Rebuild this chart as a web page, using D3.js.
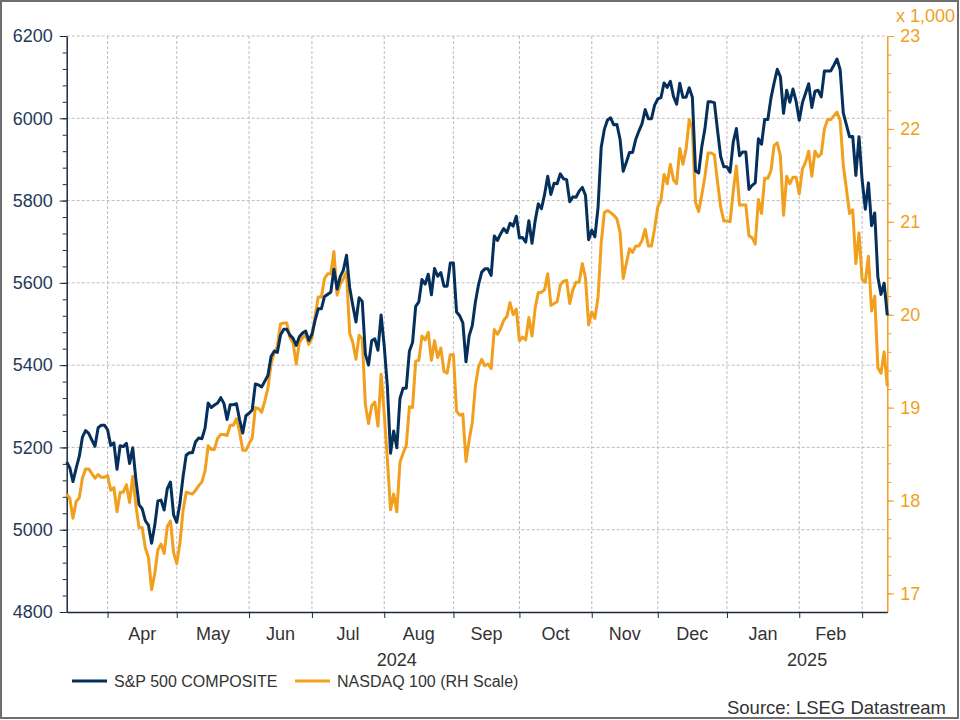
<!DOCTYPE html>
<html>
<head>
<meta charset="utf-8">
<script src="https://cdn.jsdelivr.net/npm/d3@7"></script>
<style>
  body { margin: 0; background: #fff; }
  text { font-family: "Liberation Sans", Arial, sans-serif; }
</style>
</head>
<body>
<script>
var width = 960;
var height = 720;
var plotLeft = 66.7, plotRight = 887.3, plotTop = 36, plotBottom = 612;
var spxColor = "#06305c";
var ndxColor = "#f29f1d";
var gridColor = "#bdbdbd";

// weekday series, first day 13 Mar 2024, last day 13 Mar 2025
var startDate = "2024-03-13";
var seriesNames = ["S&P 500 COMPOSITE", "NASDAQ 100 (RH Scale)"];

var spx = [
  5165, 5150, 5117, 5149, 5178, 5225, 5241, 5234, 5218, 5203, 5248, 5254, 5254,
  5243, 5205, 5211, 5147, 5204, 5202, 5210, 5161, 5199, 5123, 5061, 5051, 5022, 5011, 4967, 5010, 5070, 5072, 5048, 5100, 5116, 5036,
  5018, 5064, 5128, 5181, 5187, 5187, 5214, 5223, 5221, 5247, 5308, 5297, 5303, 5308, 5321, 5307, 5268, 5304, 5304, 5306, 5267, 5235, 5277,
  5283, 5291, 5354, 5352, 5347, 5361, 5375, 5421, 5434, 5431, 5473, 5487, 5487, 5473, 5465, 5448, 5469, 5478, 5483, 5460,
  5475, 5509, 5537, 5537, 5567, 5572, 5577, 5633, 5585, 5615, 5631, 5667, 5589, 5545, 5505, 5564, 5555, 5427, 5400, 5459, 5464, 5436, 5522,
  5446, 5347, 5186, 5240, 5199, 5319, 5344, 5344, 5434, 5455, 5543, 5554, 5608, 5597, 5621, 5571, 5635, 5616, 5625, 5592, 5592, 5648,
  5648, 5529, 5520, 5503, 5408, 5471, 5496, 5554, 5596, 5626, 5634, 5634, 5618, 5714, 5703, 5719, 5732, 5722, 5745, 5738, 5762,
  5709, 5710, 5699, 5751, 5696, 5751, 5792, 5780, 5815, 5859, 5815, 5842, 5841, 5865, 5853, 5851, 5797, 5809, 5808, 5823, 5832, 5813, 5705,
  5728, 5712, 5783, 5929, 5973, 5996, 6001, 5984, 5985, 5949, 5871, 5893, 5917, 5917, 5949, 5969, 5987, 6021, 5999, 5999, 6032,
  6047, 6050, 6086, 6075, 6090, 6053, 6034, 6085, 6051, 6051, 6074, 6051, 5872, 5867, 5931, 5975, 6040, 6040, 6038, 5971, 5907, 5882,
  5882, 5869, 5942, 5975, 5909, 5918, 5918, 5827, 5837, 5843, 5950, 5937, 5997, 5997, 6049, 6086, 6119, 6101, 6012, 6068, 6039, 6071, 6041,
  5995, 6038, 6061, 6084, 6026, 6066, 6068, 6052, 6115, 6115, 6115, 6129, 6144, 6118, 6013, 5984, 5955, 5956, 5861, 5955,
  5850, 5779, 5843, 5739, 5770, 5614, 5572, 5599, 5521
];

// thousands
var ndx = [
  18.07, 18.02, 17.81, 17.99, 18.03, 18.24, 18.34, 18.34, 18.29, 18.24, 18.28, 18.25, 18.25,
  18.27, 18.11, 18.14, 17.88, 18.09, 18.09, 18.17, 17.98, 18.26, 17.95, 17.71, 17.71, 17.49, 17.39, 17.04, 17.21, 17.47, 17.53, 17.43, 17.72, 17.78, 17.44,
  17.32, 17.54, 17.89, 18.09, 18.08, 18.07, 18.11, 18.16, 18.20, 18.32, 18.59, 18.55, 18.55, 18.67, 18.71, 18.71, 18.70, 18.81, 18.81, 18.88, 18.74, 18.54, 18.54,
  18.61, 18.67, 19.00, 18.99, 18.95, 19.07, 19.21, 19.47, 19.59, 19.66, 19.90, 19.91, 19.91, 19.75, 19.70, 19.47, 19.70, 19.75, 19.79, 19.68,
  19.75, 19.98, 20.19, 20.19, 20.39, 20.44, 20.44, 20.68, 20.21, 20.33, 20.39, 20.46, 19.80, 19.70, 19.52, 19.78, 19.74, 19.03, 18.83, 19.02, 19.06, 18.80, 19.36,
  18.93, 18.44, 17.90, 18.07, 17.88, 18.41, 18.51, 18.59, 19.01, 19.00, 19.50, 19.51, 19.77, 19.73, 19.81, 19.51, 19.72, 19.54, 19.64, 19.39, 19.37, 19.57,
  19.57, 18.96, 18.92, 18.93, 18.42, 18.65, 18.84, 19.24, 19.44, 19.52, 19.45, 19.47, 19.42, 19.84, 19.79, 19.85, 19.94, 19.98, 20.13, 20.00, 20.06,
  19.72, 19.76, 19.73, 19.97, 19.77, 20.07, 20.24, 20.24, 20.27, 20.44, 20.10, 20.12, 20.14, 20.32, 20.36, 20.37, 20.12, 20.27, 20.35, 20.35, 20.55, 20.40, 19.89,
  20.03, 19.96, 20.19, 20.77, 21.10, 21.12, 21.10, 21.07, 21.03, 20.89, 20.39, 20.55, 20.71, 20.67, 20.74, 20.74, 20.80, 20.92, 20.74, 20.74, 20.93,
  21.16, 21.23, 21.51, 21.41, 21.62, 21.45, 21.41, 21.79, 21.62, 21.78, 22.10, 22.00, 21.21, 21.11, 21.29, 21.49, 21.74, 21.74, 21.72, 21.43, 21.16, 21.01,
  21.01, 21.00, 21.33, 21.60, 21.18, 21.18, 21.18, 20.85, 20.83, 20.76, 21.24, 21.09, 21.47, 21.47, 21.55, 21.82, 21.85, 21.71, 21.07, 21.49, 21.41, 21.48, 21.48,
  21.30, 21.57, 21.64, 21.76, 21.49, 21.76, 21.70, 21.73, 22.00, 22.10, 22.10, 22.14, 22.18, 22.09, 21.61, 21.35, 21.09, 21.13, 20.55, 20.88,
  20.38, 20.35, 20.63, 20.04, 20.20, 19.43, 19.37, 19.60, 19.23
];

var leftTicks = [4800, 5000, 5200, 5400, 5600, 5800, 6000, 6200];
var rightTicks = [17, 18, 19, 20, 21, 22, 23];
var monthNames = ["Apr", "May", "Jun", "Jul", "Aug", "Sep", "Oct", "Nov", "Dec", "Jan", "Feb"];
var yearLabels = ["2024", "2025"];

// weekday calendar for the series
var dates = [];
var d = d3.timeDay.floor(new Date(startDate + "T00:00:00"));
while (dates.length < spx.length) {
  if (d.getDay() !== 0 && d.getDay() !== 6) dates.push(new Date(d));
  d = d3.timeDay.offset(d, 1);
}

// index of the first weekday of each new month
var monthStarts = [];
dates.forEach(function(dt, i) {
  if (i > 0 && dt.getMonth() !== dates[i - 1].getMonth()) monthStarts.push(i);
});
var yearStart = dates.findIndex(function(dt) { return dt.getFullYear() === 2025; });

var x = d3.scaleLinear().domain([0, spx.length - 1]).range([plotLeft, plotRight]);
var yL = d3.scaleLinear().domain([4800, 6200]).range([plotBottom, plotTop]);
var yR = d3.scaleLinear().domain([16.8, 23]).range([plotBottom, plotTop]);

var svg = d3.select("body").append("svg")
  .attr("width", width)
  .attr("height", height);

svg.append("rect")
  .attr("x", 1).attr("y", 1)
  .attr("width", width - 3).attr("height", height - 3)
  .attr("fill", "#fff")
  .attr("stroke", "#6e6e6e")
  .attr("stroke-width", 2);

// grid
svg.append("g").selectAll("line.hgrid")
  .data(leftTicks.slice(1))
  .enter().append("line")
    .attr("x1", plotLeft).attr("x2", plotRight)
    .attr("y1", function(v) { return yL(v); })
    .attr("y2", function(v) { return yL(v); })
    .attr("stroke", gridColor)
    .attr("stroke-width", 1)
    .attr("stroke-dasharray", "3,2");

svg.append("g").selectAll("line.vgrid")
  .data(monthStarts)
  .enter().append("line")
    .attr("x1", function(i) { return x(i); })
    .attr("x2", function(i) { return x(i); })
    .attr("y1", plotTop).attr("y2", plotBottom)
    .attr("stroke", gridColor)
    .attr("stroke-width", 1)
    .attr("stroke-dasharray", "3,2");

// left axis
var leftMinor = svg.append("g")
  .attr("transform", "translate(" + plotLeft + ",0)")
  .call(d3.axisLeft(yL).tickValues(d3.range(4800, 6201, 40)).tickSize(4).tickSizeOuter(0).tickFormat(""));
leftMinor.select(".domain").remove();
leftMinor.selectAll("line").attr("stroke", "#1c2b3a");

var leftAxis = svg.append("g")
  .attr("transform", "translate(" + plotLeft + ",0)")
  .call(d3.axisLeft(yL).tickValues(leftTicks).tickSize(7).tickSizeOuter(0).tickPadding(7)
    .tickFormat(d3.format("d")));
leftAxis.select(".domain").attr("stroke", "#1c2b3a").attr("stroke-width", 1.5);
leftAxis.selectAll("line").attr("stroke", "#1c2b3a");
leftAxis.selectAll("text")
  .attr("fill", "#1f3a5a")
  .attr("font-size", 18)
  .attr("font-family", "Liberation Sans, Arial, sans-serif");

// right axis
var rightMinor = svg.append("g")
  .attr("transform", "translate(" + plotRight + ",0)")
  .call(d3.axisRight(yR).tickValues(d3.range(17, 23.01, 0.2)).tickSize(4).tickSizeOuter(0).tickFormat(""));
rightMinor.select(".domain").remove();
rightMinor.selectAll("line").attr("stroke", ndxColor);

var rightAxis = svg.append("g")
  .attr("transform", "translate(" + plotRight + ",0)")
  .call(d3.axisRight(yR).tickValues(rightTicks).tickSize(7).tickSizeOuter(0).tickPadding(6)
    .tickFormat(d3.format("d")));
rightAxis.select(".domain").attr("stroke", ndxColor).attr("stroke-width", 1.5);
rightAxis.selectAll("line").attr("stroke", ndxColor);
rightAxis.selectAll("text")
  .attr("fill", ndxColor)
  .attr("font-size", 18)
  .attr("font-family", "Liberation Sans, Arial, sans-serif");

svg.append("text")
  .attr("x", 896).attr("y", 21.5)
  .attr("fill", ndxColor)
  .attr("font-size", 18)
  .text("x 1,000");

// bottom axis
var bottomAxis = svg.append("g")
  .attr("transform", "translate(0," + plotBottom + ")")
  .call(d3.axisBottom(x).tickValues(monthStarts).tickSize(6).tickSizeOuter(0).tickFormat(""));
bottomAxis.select(".domain").attr("stroke", "#1c2b3a").attr("stroke-width", 1.5);
bottomAxis.selectAll("line").attr("stroke", "#1c2b3a");

svg.append("g").selectAll("text")
  .data(monthNames)
  .enter().append("text")
    .attr("x", function(m, i) { return (x(monthStarts[i]) + x(monthStarts[i + 1])) / 2; })
    .attr("y", 640)
    .attr("text-anchor", "middle")
    .attr("font-size", 18)
    .attr("fill", "#333")
    .text(function(m) { return m; });

svg.append("g").selectAll("text")
  .data(yearLabels)
  .enter().append("text")
    .attr("x", function(yr, i) {
      return i === 0 ? (x(0) + x(yearStart)) / 2 : (x(yearStart) + x(spx.length - 1)) / 2;
    })
    .attr("y", 666)
    .attr("text-anchor", "middle")
    .attr("font-size", 18)
    .attr("fill", "#333")
    .text(function(yr) { return yr; });

// series
var spxLine = d3.line()
  .x(function(v, i) { return x(i); })
  .y(function(v) { return yL(v); });
var ndxLine = d3.line()
  .x(function(v, i) { return x(i); })
  .y(function(v) { return yR(v); });

svg.append("path")
  .datum(ndx)
  .attr("d", ndxLine)
  .attr("fill", "none")
  .attr("stroke", ndxColor)
  .attr("stroke-width", 3)
  .attr("stroke-linejoin", "round");

svg.append("path")
  .datum(spx)
  .attr("d", spxLine)
  .attr("fill", "none")
  .attr("stroke", spxColor)
  .attr("stroke-width", 3)
  .attr("stroke-linejoin", "round");

// legend
var legendItems = [
  { name: seriesNames[0], color: spxColor, x: 72 },
  { name: seriesNames[1], color: ndxColor, x: 295 }
];
var legend = svg.append("g").selectAll("g")
  .data(legendItems)
  .enter().append("g");
legend.append("line")
  .attr("x1", function(l) { return l.x; })
  .attr("x2", function(l) { return l.x + 35; })
  .attr("y1", 681).attr("y2", 681)
  .attr("stroke", function(l) { return l.color; })
  .attr("stroke-width", 3);
legend.append("text")
  .attr("x", function(l) { return l.x + 42; })
  .attr("y", 686.7)
  .attr("font-size", 16)
  .attr("fill", "#333")
  .text(function(l) { return l.name; });

svg.append("text")
  .attr("x", 946).attr("y", 714)
  .attr("text-anchor", "end")
  .attr("font-size", 18.5)
  .attr("fill", "#333")
  .text("Source: LSEG Datastream");
</script>
</body>
</html>
